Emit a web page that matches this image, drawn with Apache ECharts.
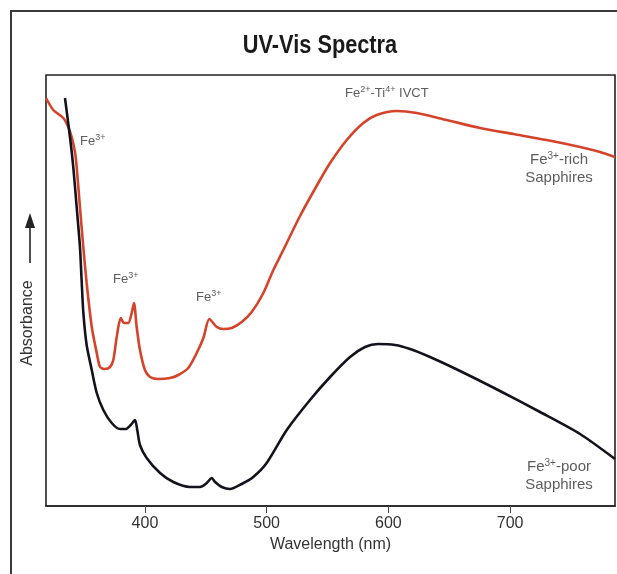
<!DOCTYPE html>
<html>
<head>
<meta charset="utf-8">
<script src="https://cdn.jsdelivr.net/npm/echarts@6/dist/echarts.min.js"></script>
<style>
  html, body { margin: 0; padding: 0; background: #fff; }
  #chart { width: 617px; height: 574px; }
</style>
</head>
<body>
<div id="chart"></div>
<script>
// values: wavelength in nm, absorbance in arbitrary units
const richWavelength = [318.7, 324.7, 332.9, 337.0, 339.8, 342.5, 343.9, 346.6, 349.4, 352.1, 356.3, 360.4, 363.1, 367.2, 371.3, 374.0, 376.8, 380.1, 382.8, 386.3, 389.1, 391.0, 393.2, 395.9, 400.0, 404.2, 411.0, 420.6, 427.4, 435.6, 442.5, 448.0, 452.9, 459.0, 464.4, 471.3, 479.5, 487.7, 497.3, 505.5, 513.7, 527.4, 543.8, 552.1, 565.8, 579.4, 590.4, 606.8, 623.3, 647.9, 675.3, 702.7, 730.1, 757.5, 773.9, 786.2]
const richAbsorbance = [408, 396, 388, 379, 369, 354, 339, 299, 258, 223, 179, 153, 139, 137, 139, 146, 169, 188, 183, 183, 193, 203, 179, 156, 136, 129, 127, 128, 131, 138, 153, 168, 187, 179, 177, 178, 184, 194, 213, 236, 256, 290, 326, 343, 366, 383, 391, 395, 393, 386, 378, 372, 366, 359, 354, 349]

const poorWavelength = [334.3, 338.4, 341.1, 343.9, 346.6, 348.0, 349.4, 352.1, 356.3, 360.4, 365.8, 372.7, 379.5, 384.2, 388.3, 391.8, 393.7, 395.9, 401.4, 412.4, 423.3, 437.0, 445.2, 450.8, 454.9, 457.6, 463.1, 469.9, 479.5, 489.0, 500.0, 516.5, 535.6, 552.1, 568.5, 580.8, 591.5, 605.5, 617.8, 634.2, 658.9, 691.7, 724.6, 757.5, 786.2]
const poorAbsorbance = [408, 369, 339, 299, 259, 225, 193, 161, 136, 113, 96, 83, 77, 77, 81, 86, 76, 61, 48, 33, 24, 19, 19, 23, 28, 24, 19, 17, 22, 29, 43, 76, 106, 129, 149, 159, 162, 161, 157, 149, 135, 115, 94, 72, 47]

const xTicks = [400, 500, 600, 700]

// annotation texts and where they sit (in data units)
const noteText = [
  '{t|Fe}{s|3+}',
  '{t|Fe}{s|3+}',
  '{t|Fe}{s|3+}',
  '{t|Fe}{s|2+}{t|-Ti}{s|4+}{t| IVCT}',
  '{b|Fe}{bs|3+}{b|-rich}\n{b|Sapphires}',
  '{b|Fe}{bs|3+}{b|-poor}\n{b|Sapphires}'
]
const noteWavelength = [346.6, 373.8, 442.0, 564.4, 740.2, 740.2]
const noteAbsorbance = [365, 227, 209, 413, 337, 30]
const noteAlign = ['left', 'left', 'left', 'left', 'center', 'center']

const FONT = "'Liberation Sans', Arial, sans-serif"
const TXT = '#333'

const chart = echarts.init(document.getElementById('chart'))

const lineStyle = (color) => ({ color, width: 2.6 })

chart.setOption({
  backgroundColor: '#fff',
  animation: false,
  grid: {
    left: 46, right: 2, top: 75, bottom: 68,
    show: true,
    borderColor: '#222',
    borderWidth: 1.6,
  },
  xAxis: {
    type: 'value',
    min: 318.7,
    max: 786.2,
    name: 'Wavelength (nm)',
    nameLocation: 'middle',
    nameGap: 27,
    nameTextStyle: { fontFamily: FONT, fontSize: 16, color: TXT },
    axisLine: { show: true, lineStyle: { color: '#222', width: 1.6 } },
    axisTick: { show: true, length: 7, customValues: xTicks, lineStyle: { color: '#444', width: 1 } },
    axisLabel: { customValues: xTicks, margin: 10, fontFamily: FONT, fontSize: 16, color: TXT },
    splitLine: { show: false },
  },
  yAxis: {
    type: 'value',
    min: 0,
    max: 431,
    axisLine: { show: false },
    axisTick: { show: false },
    axisLabel: { show: false },
    splitLine: { show: false },
  },
  series: [
    {
      name: 'Fe3+-poor',
      type: 'line',
      data: poorWavelength.map((w, i) => [w, poorAbsorbance[i]]),
      showSymbol: false,
      smooth: 0.25,
      lineStyle: lineStyle('#14121c'),
      z: 3,
    },
    {
      name: 'Fe3+-rich',
      type: 'line',
      data: richWavelength.map((w, i) => [w, richAbsorbance[i]]),
      showSymbol: false,
      smooth: 0.25,
      lineStyle: lineStyle('#d4432a'),
      z: 2,
    },
    {
      type: 'scatter',
      symbolSize: 0,
      silent: true,
      data: noteWavelength.map((w, i) => ({
        value: [w, noteAbsorbance[i]],
        label: { align: noteAlign[i], formatter: noteText[i] },
      })),
      label: {
        show: true,
        position: [0, 0],
        verticalAlign: 'middle',
        fontFamily: FONT,
        color: TXT,
        rich: {
          t: { fontFamily: FONT, fontSize: 13, lineHeight: 15, color: TXT },
          s: { fontFamily: FONT, fontSize: 9, lineHeight: 9, verticalAlign: 'top', color: TXT },
          b: { fontFamily: FONT, fontSize: 15, lineHeight: 18, color: TXT, align: 'center' },
          bs: { fontFamily: FONT, fontSize: 10, lineHeight: 10, verticalAlign: 'top', color: TXT },
        },
      },
    },
  ],
  graphic: [
    {
      type: 'polyline',
      shape: { points: [[11, 574], [11, 11], [617, 11]] },
      style: { stroke: '#3a3a3a', lineWidth: 2, fill: null },
    },
    {
      // condensed bold title
      type: 'text',
      x: 320, y: 46,
      scaleX: 0.87,
      style: {
        text: 'UV-Vis Spectra',
        align: 'center',
        verticalAlign: 'middle',
        font: "bold 25px 'Liberation Sans', Arial, sans-serif",
        fill: '#1a1a1a',
      },
    },
    {
      type: 'text',
      x: 28, y: 323,
      rotation: Math.PI / 2,
      style: {
        text: 'Absorbance',
        align: 'center',
        verticalAlign: 'middle',
        font: "16px 'Liberation Sans', Arial, sans-serif",
        fill: TXT,
      },
    },
    {
      type: 'line',
      shape: { x1: 30, y1: 263, x2: 30, y2: 226 },
      style: { stroke: '#222', lineWidth: 1.6 },
    },
    {
      type: 'polygon',
      shape: { points: [[25, 228], [35, 228], [30, 213]] },
      style: { fill: '#222' },
    },
  ],
})
</script>
</body>
</html>
